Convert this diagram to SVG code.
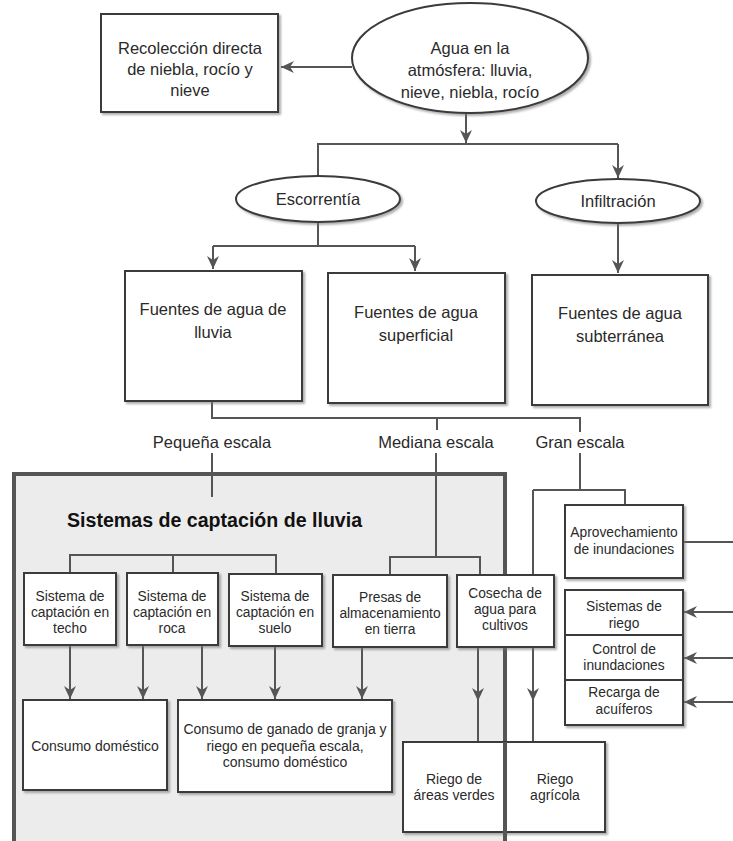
<svg xmlns="http://www.w3.org/2000/svg" width="733" height="841" viewBox="0 0 733 841">
<defs>
<style>
text{font-family:"Liberation Sans",Arial,sans-serif;fill:#2a2a2a;text-anchor:middle}
.t15{font-size:16.5px}
.t13{font-size:14px}
.t12{font-size:13.8px}
.title{font-size:19.6px;font-weight:bold;text-anchor:start;fill:#111}
.box{fill:#fff;stroke:#3a3a3a;stroke-width:2}
.ln{fill:none;stroke:#555;stroke-width:2}
.arr{fill:none;stroke:#555;stroke-width:2;marker-end:url(#ah)}
</style>
<marker id="ah" markerUnits="userSpaceOnUse" markerWidth="14" markerHeight="12" refX="13" refY="6" orient="auto">
<path d="M0,0 L13,6 L0,12 L4,6 Z" fill="#555"/>
</marker>
<filter id="sh" x="-10%" y="-10%" width="130%" height="130%">
<feDropShadow dx="2" dy="2" stdDeviation="1" flood-color="#777" flood-opacity="0.6"/>
</filter>
</defs>
<rect width="733" height="841" fill="#fff"/>

<g id="panel">
<rect x="14" y="474" width="491" height="390" fill="#ececec" stroke="#555" stroke-width="4"/>
<text class="title" x="67" y="527">Sistemas de captación de lluvia</text>
</g>

<g id="connectors">
<path class="arr" d="M352,67 H281"/>
<path class="arr" d="M466,113 V143"/>
<path class="ln" d="M318,176 V144 H618"/>
<path class="arr" d="M618,144 V178"/>
<path class="ln" d="M318,221 V246 M213,246 H415"/>
<path class="arr" d="M213,246 V269"/>
<path class="arr" d="M415,246 V271"/>
<path class="arr" d="M618,222 V273"/>
<path class="ln" d="M212,401 V418 H580 V432"/>
<path class="ln" d="M437,418 V430"/>
<path class="ln" d="M212,453 V497"/>
<path class="ln" d="M70,573 V555 H276 V573 M173,555 V573"/>
<path class="ln" d="M436,453 V557 M390,574 V557 H480 V574"/>
<path class="ln" d="M580,453 V490 M533,490 H625 V505 M533,490 V700"/>
<path class="arr" d="M533,690 V701"/>
<path class="ln" d="M533,700 V742"/>
<path class="arr" d="M478,647 V701"/>
<path class="ln" d="M478,700 V742"/>
<path class="arr" d="M70,646 V699"/>
<path class="arr" d="M143,646 V699"/>
<path class="arr" d="M202,646 V699"/>
<path class="arr" d="M275,646 V699"/>
<path class="arr" d="M362,647 V699"/>
<path class="ln" d="M684,542 H733"/>
<path class="arr" d="M733,612 H684"/>
<path class="arr" d="M733,658 H684"/>
<path class="arr" d="M733,702 H684"/>
</g>

<g id="recoleccion">
<rect class="box" filter="url(#sh)" x="101" y="14" width="177" height="98"/>
<text class="t15" x="190" y="54">Recolección directa</text>
<text class="t15" x="190" y="75">de niebla, rocío y</text>
<text class="t15" x="190" y="96">nieve</text>
</g>

<g id="agua">
<ellipse class="box" filter="url(#sh)" cx="470" cy="58" rx="118" ry="55"/>
<text class="t15" x="470" y="54">Agua en la</text>
<text class="t15" x="470" y="76">atmósfera: lluvia,</text>
<text class="t15" x="470" y="98">nieve, niebla, rocío</text>
</g>

<g id="escorrentia">
<ellipse class="box" filter="url(#sh)" cx="318" cy="199" rx="82" ry="23"/>
<text class="t15" x="318" y="205">Escorrentía</text>
</g>

<g id="infiltracion">
<ellipse class="box" filter="url(#sh)" cx="618" cy="201" rx="82" ry="22"/>
<text class="t15" x="618" y="207">Infiltración</text>
</g>

<g id="fuentes-lluvia">
<rect class="box" filter="url(#sh)" x="125" y="271" width="177" height="130"/>
<text class="t15" x="213" y="315">Fuentes de agua de</text>
<text class="t15" x="213" y="338">lluvia</text>
</g>

<g id="fuentes-superficial">
<rect class="box" filter="url(#sh)" x="328" y="273" width="177" height="130"/>
<text class="t15" x="416" y="318">Fuentes de agua</text>
<text class="t15" x="416" y="341">superficial</text>
</g>

<g id="fuentes-subterranea">
<rect class="box" filter="url(#sh)" x="532" y="275" width="176" height="130"/>
<text class="t15" x="620" y="319">Fuentes de agua</text>
<text class="t15" x="620" y="342">subterránea</text>
</g>

<g id="labels">
<text class="t15" x="212" y="448">Pequeña escala</text>
<text class="t15" x="436" y="448">Mediana escala</text>
<text class="t15" x="580" y="448">Gran escala</text>
</g>

<g id="techo">
<rect class="box" filter="url(#sh)" x="24" y="573" width="92" height="72"/>
<text class="t12" x="70" y="601">Sistema de</text>
<text class="t12" x="70" y="617">captación en</text>
<text class="t12" x="70" y="633">techo</text>
</g>

<g id="roca">
<rect class="box" filter="url(#sh)" x="127" y="573" width="91" height="72"/>
<text class="t12" x="172" y="601">Sistema de</text>
<text class="t12" x="172" y="617">captación en</text>
<text class="t12" x="172" y="633">roca</text>
</g>

<g id="suelo">
<rect class="box" filter="url(#sh)" x="229" y="574" width="93" height="72"/>
<text class="t12" x="275" y="601">Sistema de</text>
<text class="t12" x="275" y="617">captación en</text>
<text class="t12" x="275" y="633">suelo</text>
</g>

<g id="presas">
<rect class="box" filter="url(#sh)" x="333" y="575" width="114" height="72"/>
<text class="t12" x="390" y="602">Presas de</text>
<text class="t12" x="390" y="618">almacenamiento</text>
<text class="t12" x="390" y="634">en tierra</text>
</g>

<g id="cosecha">
<rect class="box" filter="url(#sh)" x="457" y="575" width="97" height="72"/>
<text class="t12" x="505" y="598">Cosecha de</text>
<text class="t12" x="505" y="614">agua para</text>
<text class="t12" x="505" y="630">cultivos</text>
</g>

<g id="aprovechamiento">
<rect class="box" filter="url(#sh)" x="565" y="505" width="118" height="73"/>
<text class="t12" x="624" y="537">Aprovechamiento</text>
<text class="t12" x="624" y="554">de inundaciones</text>
</g>

<g id="gran-escala-usos">
<rect class="box" filter="url(#sh)" x="565" y="590" width="118" height="135"/>
<line x1="565" y1="635" x2="683" y2="635" stroke="#3a3a3a" stroke-width="2"/>
<line x1="565" y1="680" x2="683" y2="680" stroke="#3a3a3a" stroke-width="2"/>
<text class="t12" x="624" y="611">Sistemas de</text>
<text class="t12" x="624" y="628">riego</text>
<text class="t12" x="624" y="654">Control de</text>
<text class="t12" x="624" y="670">inundaciones</text>
<text class="t12" x="624" y="697">Recarga de</text>
<text class="t12" x="624" y="714">acuíferos</text>
</g>

<g id="consumo-domestico">
<rect class="box" filter="url(#sh)" x="23" y="700" width="144" height="90"/>
<text class="t13" x="95" y="751">Consumo doméstico</text>
</g>

<g id="consumo-ganado">
<rect class="box" filter="url(#sh)" x="178" y="700" width="214" height="92"/>
<text class="t13" x="285" y="734">Consumo de ganado de granja y</text>
<text class="t13" x="285" y="751">riego en pequeña escala,</text>
<text class="t13" x="285" y="767">consumo doméstico</text>
</g>

<g id="riego-areas-verdes">
<rect class="box" filter="url(#sh)" x="403" y="742" width="101" height="90"/>
<text class="t13" x="454" y="784">Riego de</text>
<text class="t13" x="454" y="800">áreas verdes</text>
</g>

<g id="riego-agricola">
<rect class="box" filter="url(#sh)" x="505" y="742" width="100" height="90"/>
<text class="t13" x="555" y="784">Riego</text>
<text class="t13" x="555" y="800">agrícola</text>
</g>

<g id="panel-edge">
<line x1="505" y1="742" x2="505" y2="841" stroke="#555" stroke-width="4"/>
</g>
</svg>
